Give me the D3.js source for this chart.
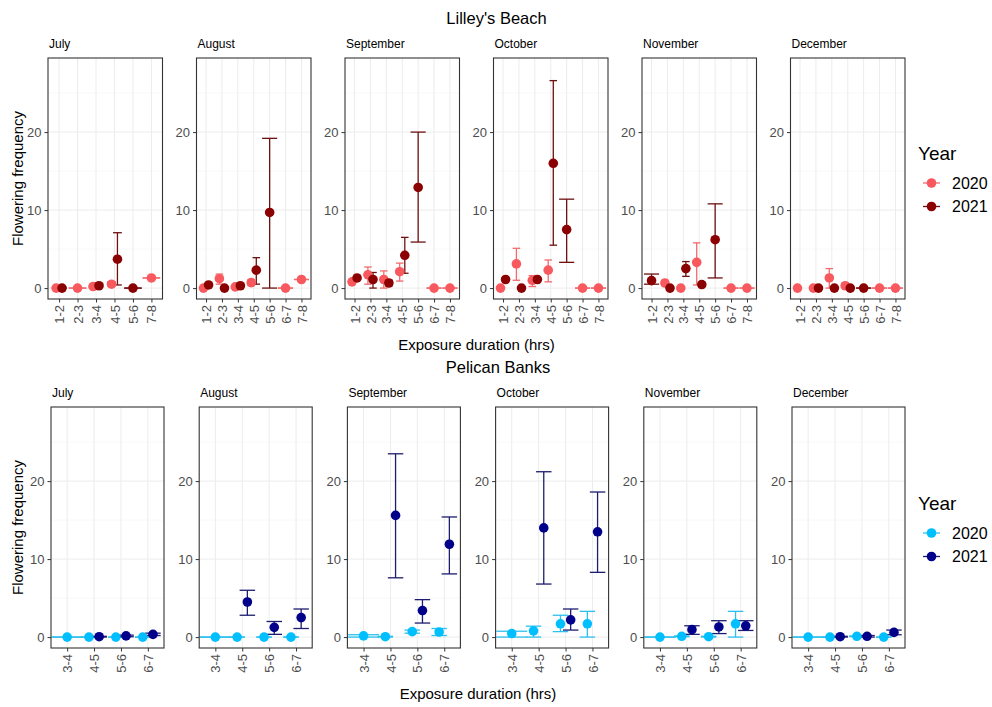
<!DOCTYPE html>
<html>
<head>
<meta charset="utf-8">
<script src="https://cdn.jsdelivr.net/npm/d3@7"></script>
<style>
  body { margin: 0; background: #fff; }
  svg { font-family: Arial, "Liberation Sans", sans-serif; }
</style>
</head>
<body>
<svg id="chart" width="992" height="707"></svg>
<script>
const months = ["July", "August", "September", "October", "November", "December"];
const lilleyCats = ["1-2", "2-3", "3-4", "4-5", "5-6", "6-7", "7-8"];
const pelicanCats = ["3-4", "4-5", "5-6", "6-7"];
const yTicks = [0, 10, 20];
const yMinor = [5, 15, 25];
const years = ["2020", "2021"];

// [month, exposure, mean, lower, upper]
const lilley2020 = [
  ["July", "1-2", 0, 0, 0], ["July", "2-3", 0, 0, 0], ["July", "3-4", 0.2, 0.1, 0.3],
  ["July", "4-5", 0.5, 0.3, 0.8], ["July", "7-8", 1.3, 1.3, 1.3],
  ["August", "1-2", 0, 0, 0], ["August", "2-3", 1.2, 0.5, 1.8], ["August", "3-4", 0.15, 0.1, 0.2],
  ["August", "4-5", 0.7, 0.3, 1.1], ["August", "6-7", 0, 0, 0], ["August", "7-8", 1.1, 1.1, 1.1],
  ["September", "1-2", 0.8, 0.7, 0.9], ["September", "2-3", 1.7, 0.5, 2.7], ["September", "3-4", 1.1, 0, 2.2],
  ["September", "4-5", 2.1, 0.9, 3.2], ["September", "6-7", 0, 0, 0], ["September", "7-8", 0, 0, 0],
  ["October", "1-2", 0, 0, 0], ["October", "2-3", 3.1, 1.0, 5.1], ["October", "3-4", 1.0, 0.2, 1.6],
  ["October", "4-5", 2.3, 0.8, 3.6], ["October", "6-7", 0, 0, 0], ["October", "7-8", 0, 0, 0],
  ["November", "2-3", 0.65, 0.4, 0.9], ["November", "3-4", 0, 0, 0], ["November", "4-5", 3.3, 0.4, 5.8],
  ["November", "6-7", 0, 0, 0], ["November", "7-8", 0, 0, 0],
  ["December", "1-2", 0, 0, 0], ["December", "2-3", 0, 0, 0], ["December", "3-4", 1.3, 0, 2.5],
  ["December", "4-5", 0.3, 0.2, 0.4], ["December", "6-7", 0, 0, 0], ["December", "7-8", 0, 0, 0]
];
const lilley2021 = [
  ["July", "1-2", 0, 0, 0], ["July", "3-4", 0.3, 0.2, 0.5], ["July", "4-5", 3.7, 0.4, 7.1], ["July", "5-6", 0, 0, 0],
  ["August", "1-2", 0.4, 0.2, 0.6], ["August", "2-3", 0, 0, 0], ["August", "3-4", 0.3, 0.2, 0.4],
  ["August", "4-5", 2.3, 0.5, 3.9], ["August", "5-6", 9.7, 0, 19.2],
  ["September", "1-2", 1.3, 1.2, 1.4], ["September", "2-3", 1.1, 0, 2.0], ["September", "3-4", 0.65, 0.3, 1.0],
  ["September", "4-5", 4.2, 1.9, 6.5], ["September", "5-6", 12.9, 5.9, 20.0],
  ["October", "1-2", 1.1, 1.0, 1.2], ["October", "2-3", 0, 0, 0], ["October", "3-4", 1.1, 1.0, 1.2],
  ["October", "4-5", 16.0, 5.5, 26.6], ["October", "5-6", 7.5, 3.3, 11.4],
  ["November", "1-2", 0.95, 0.5, 1.8], ["November", "2-3", 0, 0, 0], ["November", "3-4", 2.5, 1.5, 3.4],
  ["November", "4-5", 0.45, 0.3, 0.7], ["November", "5-6", 6.2, 1.3, 10.8],
  ["December", "1-2", null, null, null], ["December", "2-3", 0, 0, 0], ["December", "3-4", 0, 0, 0],
  ["December", "4-5", 0, 0, 0], ["December", "5-6", 0, 0, 0]
];
const pelican2020 = [
  ["July", "3-4", 0, 0, 0], ["July", "4-5", 0, 0, 0], ["July", "5-6", 0, 0, 0], ["July", "6-7", 0, 0, 0],
  ["August", "3-4", 0, 0, 0], ["August", "4-5", 0, 0, 0], ["August", "5-6", 0, 0, 0], ["August", "6-7", 0, 0, 0],
  ["September", "3-4", 0.15, 0, 0.3], ["September", "4-5", 0.05, 0, 0.1],
  ["September", "5-6", 0.7, 0.5, 0.9], ["September", "6-7", 0.65, 0.2, 1.1],
  ["October", "3-4", 0.45, 0, 0.75], ["October", "4-5", 0.8, 0, 1.4],
  ["October", "5-6", 1.7, 0.7, 2.8], ["October", "6-7", 1.7, 0, 3.3],
  ["November", "3-4", 0, 0, 0], ["November", "4-5", 0.1, 0.05, 0.15],
  ["November", "5-6", 0.05, 0, 0.1], ["November", "6-7", 1.7, 0, 3.3],
  ["December", "3-4", 0, 0, 0], ["December", "4-5", 0, 0, 0], ["December", "5-6", 0.1, 0.05, 0.15], ["December", "6-7", 0, 0, 0]
];
const pelican2021 = [
  ["July", "4-5", 0.05, 0, 0.1], ["July", "5-6", 0.15, 0.05, 0.25], ["July", "6-7", 0.35, 0.2, 0.5],
  ["August", "4-5", 4.5, 2.8, 6.0], ["August", "5-6", 1.25, 0.35, 2.0], ["August", "6-7", 2.5, 1.1, 3.6],
  ["September", "4-5", 15.6, 7.6, 23.5], ["September", "5-6", 3.4, 1.8, 4.8], ["September", "6-7", 11.9, 8.1, 15.4],
  ["October", "4-5", 14.0, 6.8, 21.2], ["October", "5-6", 2.2, 0.9, 3.6], ["October", "6-7", 13.5, 8.3, 18.6],
  ["November", "4-5", 0.95, 0.35, 1.45], ["November", "5-6", 1.3, 0.45, 2.1], ["November", "6-7", 1.45, 0.85, 2.1],
  ["December", "4-5", 0.05, 0, 0.1], ["December", "5-6", 0.1, 0, 0.2], ["December", "6-7", 0.6, 0.3, 0.9]
];

const rows = [
  { title: "Lilley's Beach", cats: lilleyCats, series: [lilley2020, lilley2021],
    colors: ["#F7595E", "#8B0000"], barColors: ["#F26A6E", "#6E1010"],
    top: 58, bottom: 299, left: 48, right: 905, pw: 114.5, dodge: 0.64, capW: 0.95,
    titleY: 24, stripY: 48, xTitleY: 350, legendY: 153 },
  { title: "Pelican Banks", cats: pelicanCats, series: [pelican2020, pelican2021],
    colors: ["#00BFFF", "#00008B"], barColors: ["#2CC0EE", "#1C1C70"],
    top: 407, bottom: 648, left: 51, right: 905, pw: 113, dodge: 0.76, capW: 1.15,
    titleY: 373, stripY: 397, xTitleY: 699, legendY: 503 }
];

const svg = d3.select("#chart");

rows.forEach(row => {
  const g = svg.append("g");
  const y = d3.scaleLinear().domain([-1.4, 29.5]).range([row.bottom, row.top]);
  const step = (row.right - row.left - row.pw) / 5;

  g.append("text").attr("x", (row.left + row.right) / 2 + 20).attr("y", row.titleY)
    .attr("text-anchor", "middle").attr("font-size", 16.5).text(row.title);

  months.forEach((m, i) => {
    const x0 = row.left + i * step;
    const cats = row.cats.filter(c => row.series.some(s => s.some(d => d[0] === m && d[1] === c)));
    const x = d3.scalePoint().domain(cats).range([x0, x0 + row.pw]).padding(0.6);
    const unit = x.step();
    const p = g.append("g");

    // grid
    p.selectAll(".minor").data(yMinor).enter().append("line")
      .attr("x1", x0).attr("x2", x0 + row.pw).attr("y1", d => y(d)).attr("y2", d => y(d))
      .attr("stroke", "#f4f4f4").attr("stroke-width", 0.6);
    p.selectAll(".major").data(yTicks).enter().append("line")
      .attr("x1", x0).attr("x2", x0 + row.pw).attr("y1", d => y(d)).attr("y2", d => y(d))
      .attr("stroke", "#ececec").attr("stroke-width", 1);
    p.selectAll(".vgrid").data(cats).enter().append("line")
      .attr("x1", d => x(d)).attr("x2", d => x(d)).attr("y1", row.top).attr("y2", row.bottom)
      .attr("stroke", "#ececec").attr("stroke-width", 1);

    // axes
    const ya = p.append("g").attr("transform", `translate(${x0},0)`)
      .call(d3.axisLeft(y).tickValues(yTicks).tickSize(3.5).tickPadding(3));
    ya.select(".domain").remove();
    ya.selectAll("line").attr("stroke", "#333");
    ya.selectAll("text").attr("font-size", 13).attr("fill", "#4d4d4d").attr("font-family", "Arial, Liberation Sans");

    const xa = p.append("g").attr("transform", `translate(0,${row.bottom})`)
      .call(d3.axisBottom(x).tickSize(3.5));
    xa.select(".domain").remove();
    xa.selectAll("line").attr("stroke", "#333");
    xa.selectAll("text").attr("font-size", 13).attr("fill", "#4d4d4d").attr("font-family", "Arial, Liberation Sans")
      .attr("transform", "rotate(-90)").attr("text-anchor", "end")
      .attr("x", -6).attr("y", 0).attr("dy", "0.35em");

    // strip label
    p.append("text").attr("x", x0 + 1).attr("y", row.stripY).attr("font-size", 12).text(m);

    // marks
    const marks = [];
    cats.forEach(c => {
      const present = [];
      row.series.forEach((s, yi) => {
        const d = s.find(r => r[0] === m && r[1] === c);
        if (d) present.push({ d, yi });
      });
      const n = present.length;
      present.forEach((e, gi) => {
        if (e.d[2] === null) return;
        const cx = x(c) + row.dodge * unit * ((gi + 0.5) / n - 0.5);
        marks.push({ cx, half: row.capW * unit / n / 2, mean: e.d[2], lo: e.d[3], hi: e.d[4], yi: e.yi });
      });
    });

    const bars = p.selectAll(".bar").data(marks).enter().append("g");
    bars.append("line").attr("x1", d => d.cx).attr("x2", d => d.cx)
      .attr("y1", d => y(d.lo)).attr("y2", d => y(d.hi));
    bars.append("line").attr("x1", d => d.cx - d.half).attr("x2", d => d.cx + d.half)
      .attr("y1", d => y(d.lo)).attr("y2", d => y(d.lo));
    bars.append("line").attr("x1", d => d.cx - d.half).attr("x2", d => d.cx + d.half)
      .attr("y1", d => y(d.hi)).attr("y2", d => y(d.hi));
    bars.selectAll("line").attr("stroke", function() { return row.barColors[d3.select(this.parentNode).datum().yi]; })
      .attr("stroke-width", 1.3);

    p.selectAll(".pt").data(marks).enter().append("circle")
      .attr("cx", d => d.cx).attr("cy", d => y(d.mean)).attr("r", 4.8)
      .attr("fill", d => row.colors[d.yi]);

    // panel border
    p.append("rect").attr("x", x0).attr("y", row.top).attr("width", row.pw).attr("height", row.bottom - row.top)
      .attr("fill", "none").attr("stroke", "#333").attr("stroke-width", 1.1);
  });

  // axis titles
  g.append("text").attr("transform", `translate(23,${(row.top + row.bottom) / 2}) rotate(-90)`)
    .attr("text-anchor", "middle").attr("font-size", 15).text("Flowering frequency");
  g.append("text").attr("x", (row.left + row.right) / 2).attr("y", row.xTitleY)
    .attr("text-anchor", "middle").attr("font-size", 15).text("Exposure duration (hrs)");

  // legend
  const lg = g.append("g");
  lg.append("text").attr("x", 918).attr("y", row.legendY + 7).attr("font-size", 19).text("Year");
  years.forEach((yr, i) => {
    const ly = row.legendY + 30 + i * 23.5;
    lg.append("line").attr("x1", 923).attr("x2", 940).attr("y1", ly).attr("y2", ly)
      .attr("stroke", row.barColors[i]).attr("stroke-width", 1.3);
    lg.append("circle").attr("cx", 931.5).attr("cy", ly).attr("r", 4.8).attr("fill", row.colors[i]);
    lg.append("text").attr("x", 952).attr("y", ly + 5.5).attr("font-size", 16).text(yr);
  });
});
</script>
</body>
</html>
